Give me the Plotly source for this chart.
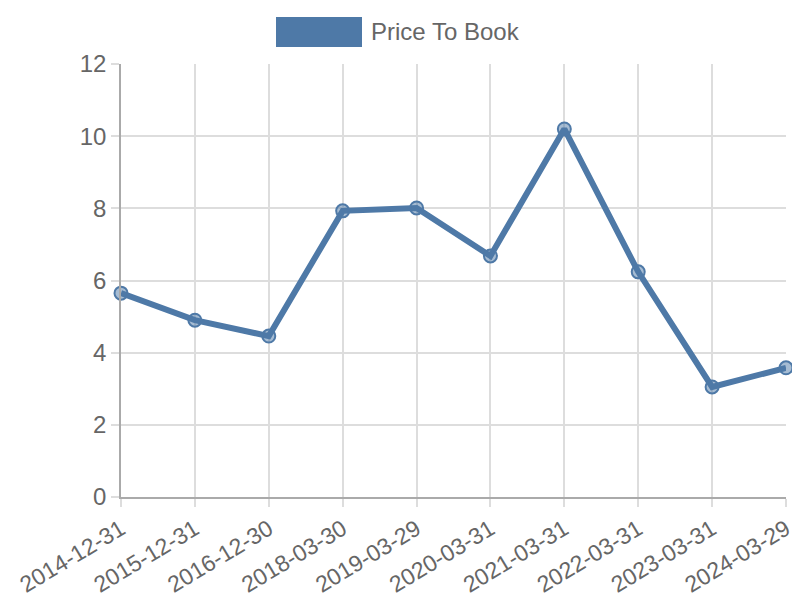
import plotly.graph_objects as go

# data
dates = ['2014-12-31', '2015-12-31', '2016-12-30', '2018-03-30', '2019-03-29',
         '2020-03-31', '2021-03-31', '2022-03-31', '2023-03-31', '2024-03-29']
price_to_book = [5.65, 4.9, 4.46, 7.93, 8.01, 6.68, 10.2, 6.24, 3.05, 3.58]
series_name = 'Price To Book'
y_ticks = [0, 2, 4, 6, 8, 10, 12]

blue = '#4e79a7'
grid = '#dddddd'
text_col = '#666666'

fig = go.Figure()
fig.add_trace(go.Scatter(
    x=dates,
    y=price_to_book,
    mode='lines+markers',
    name=series_name,
    line=dict(color=blue, width=6),
    marker=dict(size=13, color='rgba(78,121,167,0.5)',
                line=dict(color=blue, width=2)),
    cliponaxis=False,
    showlegend=False,
))

# legend drawn like chart.js: wide colour box plus label
fig.add_shape(type='rect', xref='paper', yref='paper',
              x0=(276 - 121) / 665, x1=(362 - 121) / 665,
              y0=(497 - 47) / 433, y1=(497 - 17) / 433,
              fillcolor=blue, line=dict(color=blue, width=0))
fig.add_annotation(text=series_name, xref='paper', yref='paper',
                   x=(369 - 121) / 665, y=(497 - 32) / 433,
                   xanchor='left', yanchor='middle', showarrow=False,
                   font=dict(size=24, color=text_col))

# page body adds an 8px margin, so the figure is 8px smaller and shifted
fig.update_layout(
    width=792, height=592,
    margin=dict(l=113, r=14, t=56, b=103),
    paper_bgcolor='white', plot_bgcolor='white',
    font=dict(family='Liberation Sans, Arial, sans-serif', size=24, color=text_col),
    xaxis=dict(
        type='category', range=[0, len(dates) - 1], automargin=False,
        showgrid=True, gridcolor=grid, gridwidth=1.5,
        ticks='outside', ticklen=8, tickcolor=grid, tickwidth=1.5,
        showline=True, linecolor='#aaaaaa', linewidth=1.5,
        tickangle=-31, tickfont=dict(size=23), zeroline=False,
    ),
    yaxis=dict(
        range=[0, 12], tickvals=y_ticks, automargin=False,
        showgrid=True, gridcolor=grid, gridwidth=1.5,
        ticks='outside', ticklen=8, tickcolor=grid, tickwidth=1.5,
        showline=True, linecolor='#aaaaaa', linewidth=1.5,
        zeroline=False,
    ),
)

fig.write_html('out.html')
